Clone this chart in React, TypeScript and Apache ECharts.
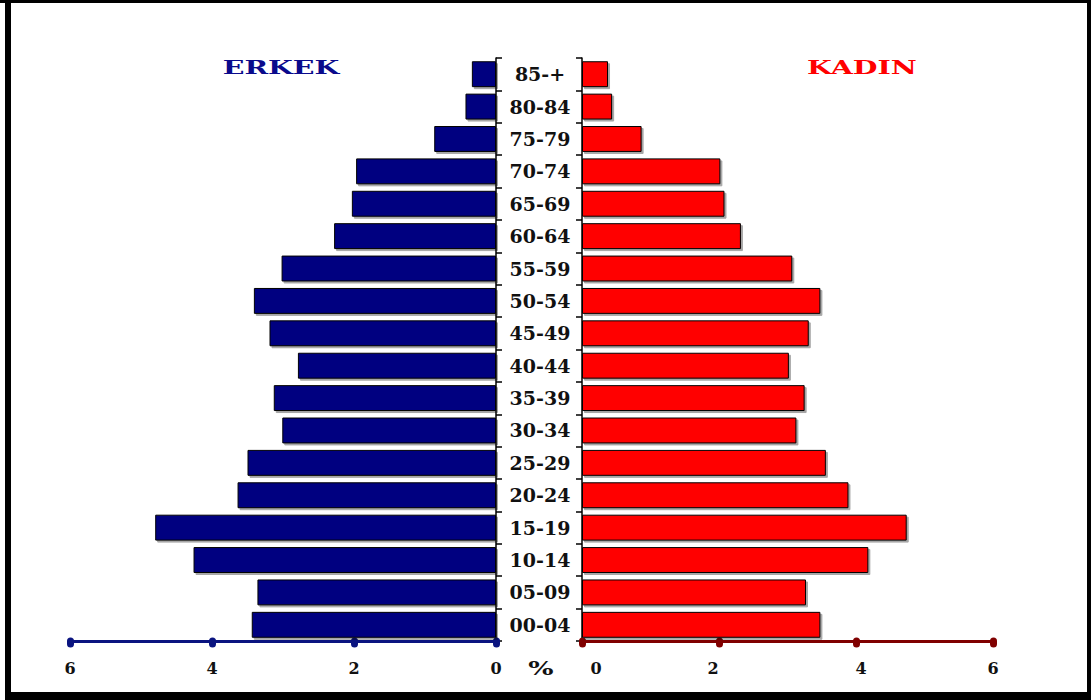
import React, { useEffect, useRef } from "react";
import * as echarts from "echarts";

const ageGroups = [
  "00-04", "05-09", "10-14", "15-19", "20-24", "25-29", "30-34", "35-39", "40-44",
  "45-49", "50-54", "55-59", "60-64", "65-69", "70-74", "75-79", "80-84", "85-+",
];
const maleValues = [
  3.44, 3.36, 4.26, 4.8, 3.64, 3.5, 3.01, 3.13, 2.79,
  3.19, 3.41, 3.02, 2.28, 2.03, 1.97, 0.87, 0.43, 0.34,
];
const femaleValues = [
  3.48, 3.27, 4.18, 4.74, 3.89, 3.56, 3.13, 3.25, 3.02,
  3.31, 3.48, 3.07, 2.32, 2.08, 2.02, 0.87, 0.44, 0.38,
];
const maleTitle = "ERKEK";
const femaleTitle = "KADIN";
const unitLabel = "%";

const SERIF = "DejaVu Serif";

export default function App() {
  const ref = useRef<HTMLDivElement>(null);
  useEffect(() => {
    if (!ref.current) return;
    const chart = echarts.init(ref.current, null, { renderer: "svg" });
    const barShadow = {
      shadowColor: "rgba(0,0,0,0.35)",
      shadowOffsetX: 2,
      shadowOffsetY: 2,
      shadowBlur: 1,
    };
    const richStyle = { fontFamily: SERIF, fontWeight: "bold", fontSize: 16, color: "#111" };
    const valueAxis = (grid: number, color: string, right: boolean) => ({
      type: "value",
      gridIndex: grid,
      min: 0,
      max: 6,
      interval: 2,
      inverse: !right,
      axisLine: { show: true, lineStyle: { color, width: 3 } },
      axisTick: { show: true, length: 3, lineStyle: { color, width: 7, cap: "round" } },
      splitLine: { show: false },
      axisLabel: {
        margin: 19,
        color: "#111",
        fontFamily: SERIF,
        fontWeight: "bold",
        fontSize: 16,
        formatter: (v: number) => {
          if (!right) return String(v);
          if (v === 0) return "{a|0}";
          if (v === 2) return "{b|2}";
          if (v === 4) return "{c|4}";
          return String(v);
        },
        rich: {
          a: { ...richStyle, padding: [0, 0, 0, 28] },
          b: { ...richStyle, padding: [0, 12, 0, 0] },
          c: { ...richStyle, padding: [0, 0, 0, 10] },
        },
      },
    });
    const option: any = {
      animation: false,
      backgroundColor: "#ffffff",
      grid: [
        { left: 70, width: 426, top: 58, height: 583 },
        { left: 582, width: 411, top: 58, height: 583 },
      ],
      xAxis: [valueAxis(0, "#0a1480", false), valueAxis(1, "#800000", true)],
      yAxis: [
        {
          type: "category",
          gridIndex: 0,
          data: ageGroups,
          position: "right",
          axisLine: { show: true, lineStyle: { color: "#000", width: 1.5 } },
          axisTick: { show: true, length: 6, lineStyle: { color: "#000", width: 1.5 } },
          axisLabel: {
            align: "center",
            margin: 44,
            color: "#111",
            fontFamily: SERIF,
            fontWeight: "bold",
            fontSize: 19,
          },
        },
        {
          type: "category",
          gridIndex: 1,
          data: ageGroups,
          position: "left",
          axisLine: { show: true, lineStyle: { color: "#000", width: 1.5 } },
          axisTick: { show: true, length: 6, lineStyle: { color: "#000", width: 1.5 } },
          axisLabel: { show: false },
        },
      ],
      series: [
        {
          name: maleTitle,
          type: "bar",
          xAxisIndex: 0,
          yAxisIndex: 0,
          data: maleValues,
          barCategoryGap: "20%",
          itemStyle: { color: "#000080", borderColor: "#000", borderWidth: 1, ...barShadow },
        },
        {
          name: femaleTitle,
          type: "bar",
          xAxisIndex: 1,
          yAxisIndex: 1,
          data: femaleValues,
          barCategoryGap: "20%",
          itemStyle: { color: "#ff0000", borderColor: "#000", borderWidth: 1, ...barShadow },
        },
      ],
      graphic: [
        { type: "rect", shape: { x: 5, y: 0, width: 6, height: 700 }, style: { fill: "#000" } },
        { type: "rect", shape: { x: 0, y: 0, width: 1091, height: 3 }, style: { fill: "#000" } },
        { type: "rect", shape: { x: 1087, y: 0, width: 4, height: 700 }, style: { fill: "#000" } },
        { type: "rect", shape: { x: 5, y: 692, width: 1086, height: 8 }, style: { fill: "#000" } },
        {
          type: "text",
          x: 281,
          y: 67,
          scaleX: 1.5,
          style: {
            text: maleTitle,
            fill: "#0a0a8c",
            font: `bold 19px "${SERIF}"`,
            textAlign: "center",
            textVerticalAlign: "middle",
          },
        },
        {
          type: "text",
          x: 862,
          y: 67,
          scaleX: 1.5,
          style: {
            text: femaleTitle,
            fill: "#ff0000",
            font: `bold 19px "${SERIF}"`,
            textAlign: "center",
            textVerticalAlign: "middle",
          },
        },
        {
          type: "text",
          x: 541,
          y: 668,
          scaleX: 1.4,
          style: {
            text: unitLabel,
            fill: "#111",
            font: `bold 19px "${SERIF}"`,
            textAlign: "center",
            textVerticalAlign: "middle",
          },
        },
      ],
    };
    chart.setOption(option);
    return () => chart.dispose();
  }, []);
  return (
    <div
      ref={ref}
      style={{ position: "fixed", left: 0, top: 0, width: 1091, height: 700, background: "#fff" }}
    />
  );
}
